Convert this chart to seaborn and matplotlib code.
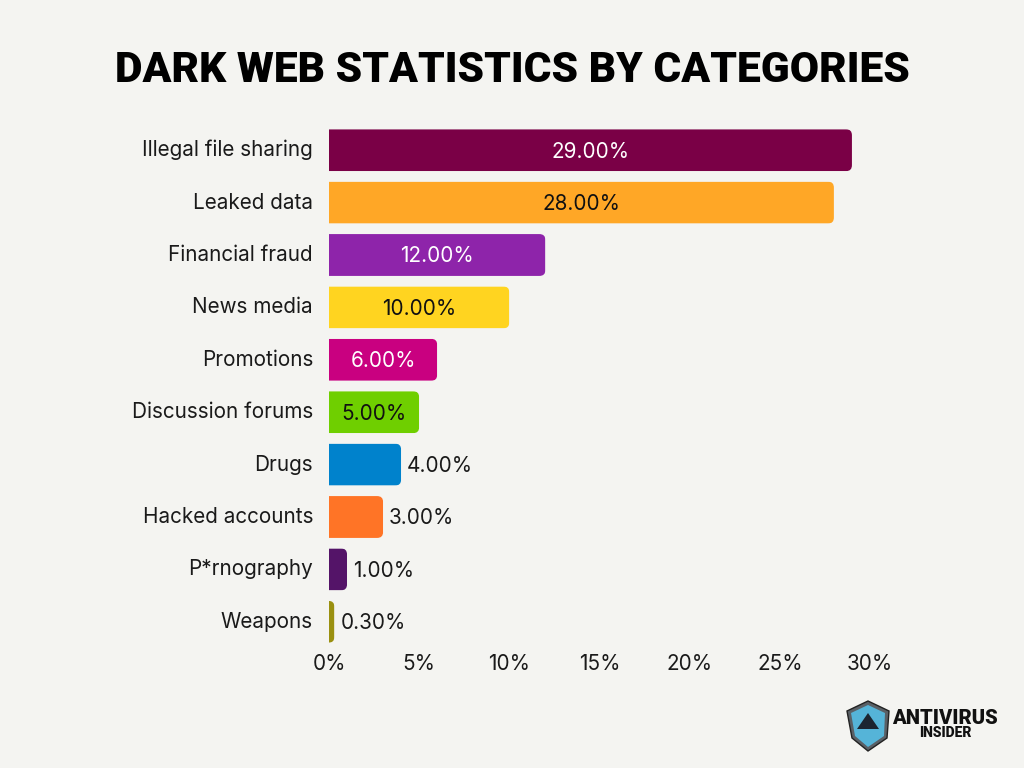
import matplotlib
matplotlib.use("Agg")
import matplotlib.pyplot as plt
import pandas as pd
import seaborn as sns
from matplotlib.patches import FancyBboxPatch, Polygon
from matplotlib.transforms import IdentityTransform, ScaledTranslation

categories = ["Illegal file sharing", "Leaked data", "Financial fraud", "News media",
              "Promotions", "Discussion forums", "Drugs", "Hacked accounts",
              "P*rnography", "Weapons"]
values = [29.0, 28.0, 12.0, 10.0, 6.0, 5.0, 4.0, 3.0, 1.0, 0.3]
colors = ["#7A0046", "#FFA726", "#8E24AA", "#FFD420", "#C90080",
          "#6FCF00", "#0082CC", "#FF7426", "#541468", "#9A9010"]
inside_color = ["white", "#111111", "white", "#111111", "white",
                "#111111", None, None, None, None]
xticks = [0, 5, 10, 15, 20, 25, 30]
title = "DARK WEB STATISTICS BY CATEGORIES"

BG = "#F4F4F1"
W, H = 1024, 768
FS = 14.9
sns.set_theme(style="white")
plt.rcParams["font.family"] = ["Inter", "DejaVu Sans"]

fig = plt.figure(figsize=(W / 100, H / 100), dpi=100, facecolor=BG)
ax = fig.add_axes([329 / W, 1 - 648 / H, (870 - 329) / W, (648 - 124) / H], facecolor=BG)

df = pd.DataFrame({"category": categories, "value": values})
sns.barplot(data=df, y="category", x="value", hue="category", palette=colors,
            order=categories, hue_order=categories, dodge=False, legend=False,
            width=0.8, saturation=1, linewidth=0, ax=ax)
ax.set_xlim(0, 30)
ax.set_ylim(len(categories) - 0.5, -0.5)
ax.set_xlabel("")
ax.set_ylabel("")
ax.set_xticks(xticks, [f"{t}%" for t in xticks])
for s in ax.spines.values():
    s.set_visible(False)
ax.tick_params(axis="x", length=0, pad=4.5, labelsize=FS, labelcolor="#1a1a1a")
ax.tick_params(axis="y", length=0, pad=11.5, labelsize=FS, labelcolor="#1a1a1a")
for lab in ax.get_yticklabels():
    lab.set_transform(lab.get_transform() + ScaledTranslation(0, 1.5 / 72, fig.dpi_scale_trans))

# Rounded right ends, left ends stay square
fig.canvas.draw()
r = 6
for bar in ax.patches:
    bar.set_snap(False)
    x0, y0, x1, y1 = bar.get_window_extent().extents
    clip = FancyBboxPatch((x0 - 2 * r, y0 + r), x1 - x0 + r, y1 - y0 - 2 * r,
                          boxstyle=f"round,pad={r},rounding_size={r}",
                          transform=IdentityTransform())
    bar.set_clip_path(clip)

for i, (v, c) in enumerate(zip(values, inside_color)):
    if c is not None:
        ax.annotate(f"{v:.2f}%", (v / 2, i), xytext=(0, -1), textcoords="offset points",
                    ha="center", va="center", color=c, fontsize=FS)
    else:
        ax.annotate(f"{v:.2f}%", (v, i), xytext=(4.3, -1), textcoords="offset points",
                    ha="left", va="center", color="#1a1a1a", fontsize=FS)

fig.text(512.5 / W, 1 - 70 / H, title, ha="center", va="center", fontsize=30.6,
         fontweight=900, family=["Roboto"], color="black")

# Logo
logo = fig.add_axes([0, 0, 1, 1], facecolor="none", zorder=5)
logo.set_xlim(0, W)
logo.set_ylim(H, 0)
logo.axis("off")
logo.add_patch(Polygon([(847, 711), (868, 701), (889, 711), (887, 738), (868, 751), (852, 738)],
                       closed=True, fc="#5a6066", ec="#222222", lw=1))
logo.add_patch(Polygon([(851, 713), (868, 705), (885, 713), (884, 736), (868, 747), (855, 736)],
                       closed=True, fc="#55B4D8", ec="none"))
logo.add_patch(Polygon([(868, 713), (879, 729), (857, 729)], closed=True, fc="#1c2530", ec="none"))
logo.text(945, 718, "ANTIVIRUS", ha="center", va="center", fontsize=14.5, fontweight=900,
          family=["Roboto"], color="#111111")
logo.text(945, 733, "INSIDER", ha="center", va="center", fontsize=10, fontweight=900,
          family=["Roboto"], color="#111111")

fig.savefig("out.png", dpi=100, facecolor=BG)
